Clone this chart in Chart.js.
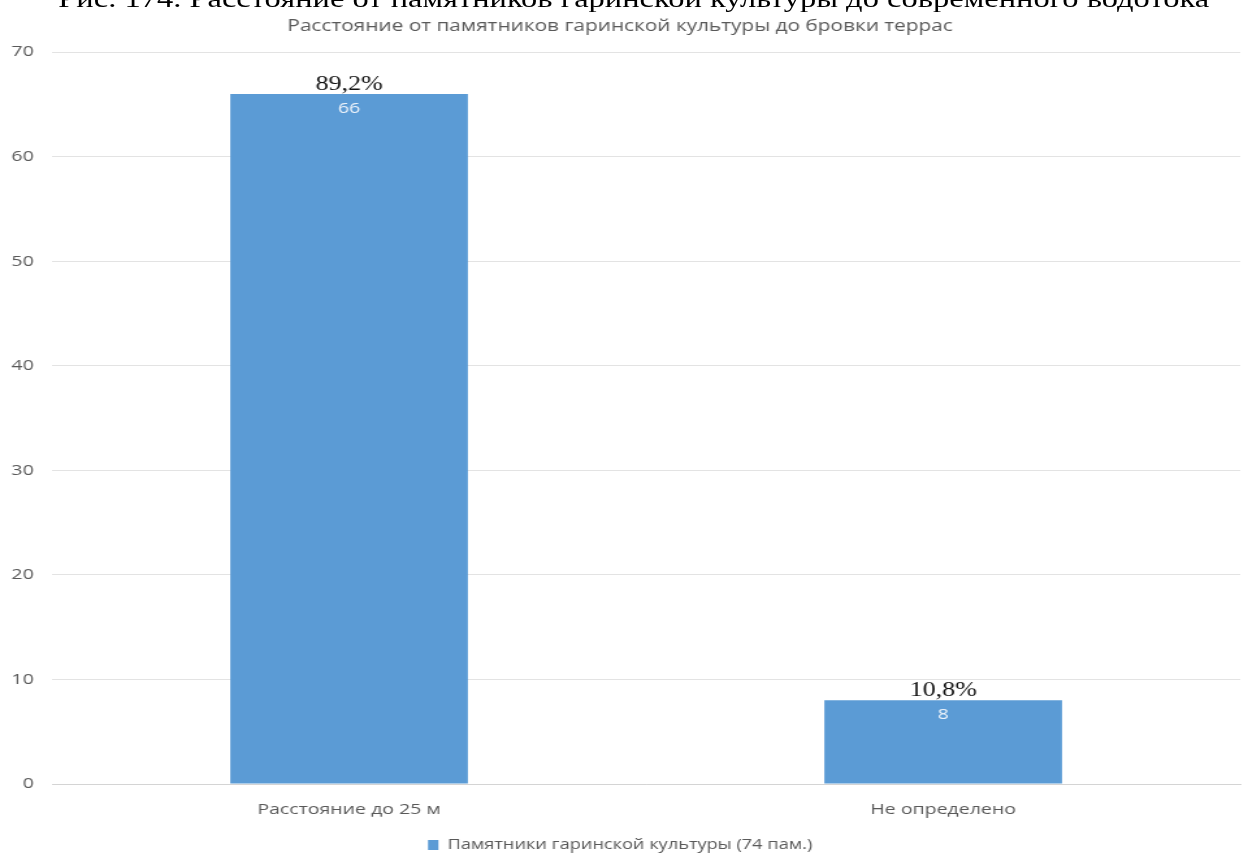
<!DOCTYPE html>
<html>
<head>
<meta charset="utf-8">
<script src="https://cdn.jsdelivr.net/npm/chart.js@4.4.1/dist/chart.umd.min.js"></script>
<style>
  html, body { margin: 0; padding: 0; background: #fff; overflow: hidden; }
  /* исходная картинка растянута по горизонтали ~1.3 раза */
  #wrap { position: relative; width: 963px; height: 862px; transform: scaleX(1.3); transform-origin: 0 0; }
  #caption {
    position: absolute; left: 0; width: 963px; top: -15px;
    text-align: center; font-family: "Liberation Serif", serif; font-size: 25px;
    color: #000; white-space: nowrap; padding-left: 6px;
  }
  canvas { position: absolute; left: 0; top: 0; }
</style>
</head>
<body>
<div id="wrap">
  <div id="caption">Рис. 174. Расстояние от памятников гаринской культуры до современного водотока</div>
  <canvas id="chart" width="963" height="862"></canvas>
</div>
<script>
const CATEGORIES = ["Расстояние до 25 м", "Не определено"];
const COUNTS = [66, 8];
const PERCENTS = ["89,2%", "10,8%"];
const SERIES_LABEL = "Памятники гаринской культуры (74 пам.)";
const TITLE = "Расстояние от памятников гаринской культуры до бровки террас";
const Y_MAX = 70;
const Y_STEP = 10;

const SANS = "'Open Sans', 'DejaVu Sans', sans-serif";
const GRAY = "#595959";

// подписи над столбцами (проценты) и внутри (количество)
const barLabels = {
  id: "barLabels",
  afterDatasetsDraw(chart) {
    const { ctx } = chart;
    const meta = chart.getDatasetMeta(0);
    meta.data.forEach((bar, i) => {
      ctx.save();
      ctx.textAlign = "center";
      ctx.textBaseline = "alphabetic";
      ctx.fillStyle = "#111";
      ctx.font = "20px 'Liberation Serif', serif";
      ctx.fillText(PERCENTS[i], bar.x, bar.y - 4);
      ctx.fillStyle = "#eef4fb";
      ctx.font = "15px " + SANS;
      ctx.fillText(String(COUNTS[i]), bar.x, bar.y + 19);
      ctx.restore();
    });
  }
};

new Chart(document.getElementById("chart"), {
  type: "bar",
  data: {
    labels: CATEGORIES,
    datasets: [{
      label: SERIES_LABEL,
      data: COUNTS,
      backgroundColor: "#5b9bd5",
      categoryPercentage: 0.8,
      barPercentage: 0.5
    }]
  },
  options: {
    responsive: false,
    animation: false,
    layout: { padding: { left: 0, right: 9, top: 0, bottom: 0 } },
    plugins: {
      title: {
        display: true,
        text: TITLE,
        color: GRAY,
        font: { family: SANS, size: 16, weight: "normal" },
        padding: { top: 17, bottom: 16 }
      },
      legend: {
        position: "bottom",
        labels: {
          color: GRAY,
          font: { family: SANS, size: 14 },
          boxWidth: 8,
          boxHeight: 10,
          padding: 10
        }
      },
      tooltip: { enabled: false }
    },
    scales: {
      x: {
        grid: { display: false },
        border: { color: "#d4d4d4" },
        ticks: { color: GRAY, font: { family: SANS, size: 15 }, padding: 9 }
      },
      y: {
        min: 0,
        max: Y_MAX,
        ticks: { stepSize: Y_STEP, color: GRAY, font: { family: SANS, size: 15 }, padding: 14 },
        grid: { color: "#e3e3e3", drawTicks: false },
        border: { display: false },
        afterFit(scale) { scale.width = 40; }
      }
    }
  },
  plugins: [barLabels]
});
</script>
</body>
</html>
